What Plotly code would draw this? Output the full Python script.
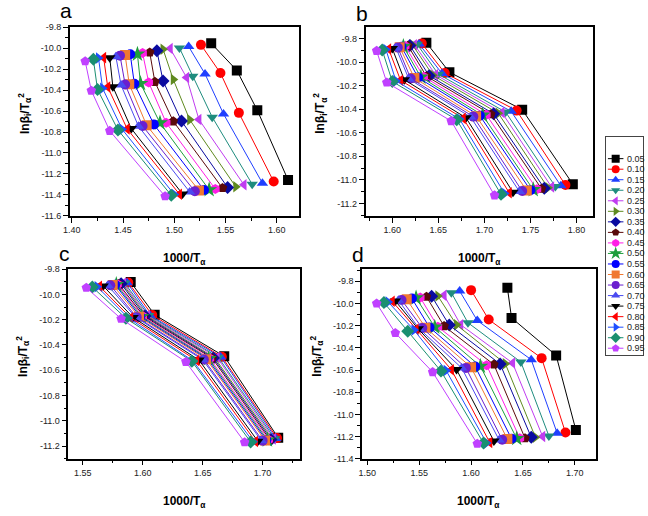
import plotly.graph_objects as go

W, H = 648, 516

labels = ["0.05", "0.10", "0.15", "0.20", "0.25", "0.30", "0.35", "0.40", "0.45", "0.50",
          "0.55", "0.60", "0.65", "0.70", "0.75", "0.80", "0.85", "0.90", "0.95"]

colors = ['#000000', '#FF0000', '#1F3FFF', '#1E8C7E', '#C03CF0', '#5F8A1F', '#0A0AA0', '#5A0A0A',
          '#FF1EE6', '#1E9E3C', '#0000FF', '#F07830', '#6A1FCF', '#4A4AF0', '#000000', '#FF0000',
          '#1E4EFF', '#1A8F70', '#C040FF']
symbols = ['square', 'circle', 'triangle-up', 'triangle-down', 'triangle-left', 'triangle-right',
           'diamond', 'pentagon', 'hexagon', 'star', 'circle', 'square', 'circle', 'triangle-up',
           'triangle-down', 'triangle-left', 'triangle-right', 'diamond', 'pentagon']

# ---------------- panel a ----------------
a_x1 = [1.536, 1.526, 1.514, 1.505, 1.496, 1.489, 1.483, 1.476, 1.469, 1.464, 1.457, 1.452, 1.447, 1.443, 1.437, 1.431, 1.426, 1.421, 1.413]
a_y1 = [-9.953, -9.968, -9.984, -9.997, -10.003, -10.009, -10.025, -10.040, -10.045, -10.056, -10.058, -10.065, -10.071, -10.081, -10.090, -10.090, -10.093, -10.106, -10.124]
a_x2 = [1.561, 1.545, 1.530, 1.518, 1.512, 1.499, 1.489, 1.481, 1.475, 1.467, 1.461, 1.456, 1.452, 1.448, 1.440, 1.435, 1.430, 1.425, 1.419]
a_y2 = [-10.212, -10.237, -10.246, -10.268, -10.280, -10.299, -10.312, -10.321, -10.327, -10.337, -10.340, -10.343, -10.346, -10.352, -10.368, -10.370, -10.383, -10.393, -10.405]
a_x3 = [1.581, 1.563, 1.548, 1.537, 1.524, 1.515, 1.507, 1.499, 1.492, 1.486, 1.480, 1.473, 1.469, 1.465, 1.458, 1.454, 1.449, 1.445, 1.437]
a_y3 = [-10.593, -10.617, -10.627, -10.658, -10.680, -10.682, -10.695, -10.698, -10.711, -10.713, -10.727, -10.736, -10.742, -10.745, -10.767, -10.770, -10.773, -10.780, -10.789]
a_x4 = [1.611, 1.597, 1.586, 1.576, 1.568, 1.560, 1.552, 1.547, 1.540, 1.534, 1.529, 1.524, 1.520, 1.515, 1.508, 1.505, 1.500, 1.497, 1.491]
a_y4 = [-11.257, -11.273, -11.288, -11.298, -11.304, -11.323, -11.329, -11.335, -11.344, -11.351, -11.353, -11.357, -11.366, -11.372, -11.391, -11.393, -11.397, -11.404, -11.413]

# ---------------- panel b ----------------
b_x1 = [1.637, 1.632, 1.629, 1.627, 1.624, 1.622, 1.619, 1.617, 1.614, 1.612, 1.610, 1.608, 1.606, 1.604, 1.600, 1.596, 1.593, 1.589, 1.583]
b_y1 = [-9.836, -9.842, -9.846, -9.850, -9.853, -9.856, -9.859, -9.862, -9.865, -9.868, -9.871, -9.874, -9.877, -9.880, -9.885, -9.889, -9.893, -9.897, -9.905]
b_x2 = [1.662, 1.657, 1.654, 1.650, 1.647, 1.644, 1.640, 1.637, 1.634, 1.631, 1.628, 1.624, 1.620, 1.618, 1.613, 1.609, 1.604, 1.600, 1.594]
b_y2 = [-10.086, -10.093, -10.098, -10.103, -10.108, -10.112, -10.116, -10.120, -10.124, -10.128, -10.132, -10.136, -10.140, -10.144, -10.150, -10.155, -10.160, -10.165, -10.174]
b_x3 = [1.741, 1.735, 1.729, 1.723, 1.719, 1.715, 1.710, 1.707, 1.702, 1.698, 1.695, 1.691, 1.688, 1.685, 1.680, 1.677, 1.673, 1.670, 1.664]
b_y3 = [-10.404, -10.412, -10.418, -10.424, -10.429, -10.434, -10.439, -10.443, -10.447, -10.451, -10.455, -10.459, -10.463, -10.467, -10.473, -10.478, -10.484, -10.490, -10.501]
b_x4 = [1.796, 1.788, 1.783, 1.777, 1.773, 1.769, 1.765, 1.762, 1.757, 1.753, 1.750, 1.746, 1.741, 1.738, 1.731, 1.727, 1.722, 1.718, 1.711]
b_y4 = [-11.036, -11.044, -11.050, -11.056, -11.061, -11.066, -11.071, -11.075, -11.079, -11.083, -11.087, -11.091, -11.095, -11.099, -11.105, -11.110, -11.116, -11.122, -11.131]

# ---------------- panel c ----------------
c_x1 = [1.590, 1.588, 1.587, 1.585, 1.584, 1.583, 1.582, 1.580, 1.579, 1.578, 1.577, 1.575, 1.573, 1.571, 1.567, 1.564, 1.562, 1.558, 1.553]
c_y1 = [-9.903, -9.906, -9.908, -9.910, -9.912, -9.914, -9.916, -9.918, -9.920, -9.922, -9.924, -9.926, -9.928, -9.930, -9.933, -9.936, -9.939, -9.942, -9.947]
c_x2 = [1.610, 1.608, 1.606, 1.605, 1.604, 1.603, 1.602, 1.601, 1.600, 1.599, 1.598, 1.597, 1.595, 1.594, 1.592, 1.590, 1.588, 1.586, 1.582]
c_y2 = [-10.162, -10.164, -10.166, -10.167, -10.169, -10.170, -10.171, -10.173, -10.174, -10.175, -10.177, -10.178, -10.180, -10.181, -10.183, -10.185, -10.187, -10.189, -10.193]
c_x3 = [1.668, 1.666, 1.665, 1.663, 1.662, 1.660, 1.659, 1.658, 1.656, 1.655, 1.654, 1.653, 1.651, 1.650, 1.647, 1.645, 1.642, 1.641, 1.636]
c_y3 = [-10.490, -10.493, -10.495, -10.497, -10.499, -10.501, -10.503, -10.505, -10.507, -10.509, -10.511, -10.513, -10.515, -10.517, -10.520, -10.523, -10.526, -10.529, -10.534]
c_x4 = [1.713, 1.712, 1.711, 1.710, 1.709, 1.708, 1.707, 1.706, 1.705, 1.704, 1.703, 1.702, 1.700, 1.699, 1.696, 1.694, 1.692, 1.690, 1.685]
c_y4 = [-11.135, -11.137, -11.139, -11.141, -11.143, -11.145, -11.147, -11.149, -11.150, -11.152, -11.153, -11.155, -11.157, -11.158, -11.161, -11.163, -11.165, -11.167, -11.169]

# ---------------- panel d ----------------
d_x1 = [1.635, 1.600, 1.589, 1.581, 1.574, 1.568, 1.562, 1.557, 1.551, 1.547, 1.543, 1.538, 1.533, 1.530, 1.527, 1.524, 1.520, 1.516, 1.509]
d_y1 = [-9.859, -9.880, -9.888, -9.903, -9.927, -9.933, -9.935, -9.939, -9.947, -9.950, -9.956, -9.962, -9.968, -9.971, -9.977, -9.980, -9.986, -9.992, -10.000]
d_x2 = [1.639, 1.617, 1.606, 1.597, 1.590, 1.586, 1.579, 1.574, 1.568, 1.565, 1.560, 1.556, 1.553, 1.550, 1.549, 1.547, 1.545, 1.539, 1.527]
d_y2 = [-10.130, -10.145, -10.154, -10.174, -10.192, -10.193, -10.195, -10.204, -10.210, -10.213, -10.216, -10.218, -10.221, -10.227, -10.229, -10.233, -10.239, -10.251, -10.266]
d_x3 = [1.682, 1.668, 1.658, 1.648, 1.640, 1.633, 1.628, 1.622, 1.615, 1.609, 1.604, 1.600, 1.595, 1.591, 1.586, 1.581, 1.576, 1.571, 1.563]
d_y3 = [-10.469, -10.493, -10.507, -10.528, -10.537, -10.543, -10.546, -10.551, -10.557, -10.566, -10.569, -10.575, -10.581, -10.582, -10.596, -10.597, -10.605, -10.610, -10.619]
d_x4 = [1.701, 1.691, 1.683, 1.675, 1.669, 1.662, 1.658, 1.652, 1.647, 1.644, 1.639, 1.635, 1.630, 1.627, 1.622, 1.618, 1.615, 1.612, 1.606]
d_y4 = [-11.141, -11.164, -11.170, -11.194, -11.200, -11.206, -11.207, -11.215, -11.216, -11.218, -11.220, -11.223, -11.229, -11.230, -11.240, -11.253, -11.258, -11.259, -11.265]

# tick labels
a_xticks = [1.40, 1.45, 1.50, 1.55, 1.60]
b_xticks = [1.60, 1.65, 1.70, 1.75, 1.80]
c_xticks = [1.55, 1.60, 1.65, 1.70]
d_xticks = [1.50, 1.55, 1.60, 1.65, 1.70]
a_yticks = [-9.8, -10.0, -10.2, -10.4, -10.6, -10.8, -11.0, -11.2, -11.4, -11.6]
b_yticks = [-9.8, -10.0, -10.2, -10.4, -10.6, -10.8, -11.0, -11.2]
c_yticks = [-9.8, -10.0, -10.2, -10.4, -10.6, -10.8, -11.0, -11.2]
d_yticks = [-9.8, -10.0, -10.2, -10.4, -10.6, -10.8, -11.0, -11.2, -11.4]

panels = [
    dict(xs=[a_x1, a_x2, a_x3, a_x4], ys=[a_y1, a_y2, a_y3, a_y4], xr=[1.398, 1.622], yr=[-11.6, -9.8],
         xt=a_xticks, yt=a_yticks, px=(63.5, 295.5), py=(22.7, 215.0), letter='a', ldy=-17),
    dict(xs=[b_x1, b_x2, b_x3, b_x4], ys=[b_y1, b_y2, b_y3, b_y4], xr=[1.571, 1.818], yr=[-11.305, -9.705],
         xt=b_xticks, yt=b_yticks, px=(362.5, 592.5), py=(22.7, 215.0), letter='b', ldy=-14),
    dict(xs=[c_x1, c_x2, c_x3, c_x4], ys=[c_y1, c_y2, c_y3, c_y4], xr=[1.538, 1.731], yr=[-11.3, -9.8],
         xt=c_xticks, yt=c_yticks, px=(62.0, 296.0), py=(269.3, 462.7), letter='c', ldy=-16),
    dict(xs=[d_x1, d_x2, d_x3, d_x4], ys=[d_y1, d_y2, d_y3, d_y4], xr=[1.495, 1.720], yr=[-11.4, -9.69],
         xt=d_xticks, yt=d_yticks, px=(359.0, 595.0), py=(269.3, 462.7), letter='d', ldy=-15),
]

FONT = "Liberation Sans, Arial, sans-serif"
fig = go.Figure()
layout = dict(width=W, height=H, margin=dict(l=0, r=0, t=0, b=0),
              paper_bgcolor='white', plot_bgcolor='white', showlegend=False,
              font=dict(family=FONT, color='black'))
annotations = []

def fmt(v, nd):
    return f"{v:.{nd}f}"

for p_i, p in enumerate(panels):
    n = p_i + 1
    xa = 'x' if n == 1 else f'x{n}'
    ya = 'y' if n == 1 else f'y{n}'
    for k in range(len(labels)):
        fig.add_trace(go.Scatter(
            x=[p['xs'][r][k] for r in range(4)],
            y=[p['ys'][r][k] for r in range(4)],
            mode='lines+markers', xaxis=xa, yaxis=ya,
            line=dict(color=colors[k], width=1),
            marker=dict(symbol=symbols[k], color=colors[k], size=12 if symbols[k] == 'star' else 10,
                        line=dict(width=0)),
            name=labels[k]))
    x0, x1 = p['px']
    y0, y1 = p['py']
    axcommon = dict(showline=True, linecolor='black', linewidth=1.5, mirror=True,
                    ticks='outside', ticklen=5, tickwidth=1, tickcolor='black',
                    showgrid=False, zeroline=False,
                    tickfont=dict(size=9, family=FONT, color='#222222'))
    layout['xaxis' if n == 1 else f'xaxis{n}'] = dict(
        axcommon, domain=[x0 / W, x1 / W], range=p['xr'], anchor=ya,
        tickmode='array', tickvals=p['xt'], ticktext=[fmt(v, 2) for v in p['xt']],
        minor=dict(tickmode='linear', tick0=p['xt'][0], dtick=0.025, ticks='outside',
                   ticklen=3, tickcolor='black', showgrid=False))
    layout['yaxis' if n == 1 else f'yaxis{n}'] = dict(
        axcommon, domain=[1 - y1 / H, 1 - y0 / H], range=p['yr'], anchor=xa,
        tickmode='array', tickvals=p['yt'], ticktext=[fmt(v, 1) for v in p['yt']],
        minor=dict(tickmode='linear', tick0=-9.8, dtick=0.1, ticks='outside',
                   ticklen=3, tickcolor='black', showgrid=False))
    annotations.append(dict(text='<b>lnβ<sub>i</sub>/T<sub>α</sub><sup>2</sup></b>', xref='paper', yref='paper',
                            x=(x0 - 46) / W, y=1 - ((y0 + y1) / 2 - 8) / H, textangle=-90,
                            showarrow=False, font=dict(size=12, family=FONT),
                            xanchor='center', yanchor='middle'))
    annotations.append(dict(text='<b>1000/T<sub>α</sub></b>', xref='paper', yref='paper',
                            x=(x0 + x1) / 2 / W, y=1 - (y1 + 44) / H,
                            showarrow=False, font=dict(size=12, family=FONT),
                            xanchor='center', yanchor='middle'))
    annotations.append(dict(text=p['letter'], xref='paper', yref='paper',
                            x=(x0 + 4) / W, y=1 - (y0 + p['ldy']) / H, showarrow=False,
                            font=dict(size=21, family=FONT), xanchor='right', yanchor='middle'))

# legend panel drawn as its own small axes
lx0, lx1, ly0, ly1 = 606.0, 643.3, 135.0, 357.0
layout['xaxis5'] = dict(domain=[lx0 / W, lx1 / W], range=[0, 1], anchor='y5', showline=True, mirror=True,
                        linecolor='#444444', linewidth=1, showticklabels=False, ticks='',
                        showgrid=False, zeroline=False, fixedrange=True)
layout['yaxis5'] = dict(domain=[1 - ly1 / H, 1 - ly0 / H], range=[18.65, -2.02], anchor='x5', showline=True,
                        mirror=True, linecolor='#444444', linewidth=1, showticklabels=False, ticks='',
                        showgrid=False, zeroline=False, fixedrange=True)
for k in range(len(labels)):
    fig.add_trace(go.Scatter(x=[0.04, 0.46], y=[k, k], mode='lines', xaxis='x5', yaxis='y5',
                             line=dict(color=colors[k], width=1), hoverinfo='skip'))
    fig.add_trace(go.Scatter(x=[0.25], y=[k], mode='markers', xaxis='x5', yaxis='y5',
                             marker=dict(symbol=symbols[k], color=colors[k],
                                         size=10 if symbols[k] == 'star' else 8, line=dict(width=0)),
                             hoverinfo='skip'))
    annotations.append(dict(text=labels[k], xref='x5', yref='y5', x=0.49, y=k, showarrow=False,
                            xanchor='left', yanchor='middle', font=dict(size=9, family=FONT, color='#222222')))

layout['annotations'] = annotations
fig.update_layout(**layout)
fig.write_html("out.html", config={'displayModeBar': False},
               post_script="document.body.style.margin='0px';document.body.style.overflow='hidden';")
